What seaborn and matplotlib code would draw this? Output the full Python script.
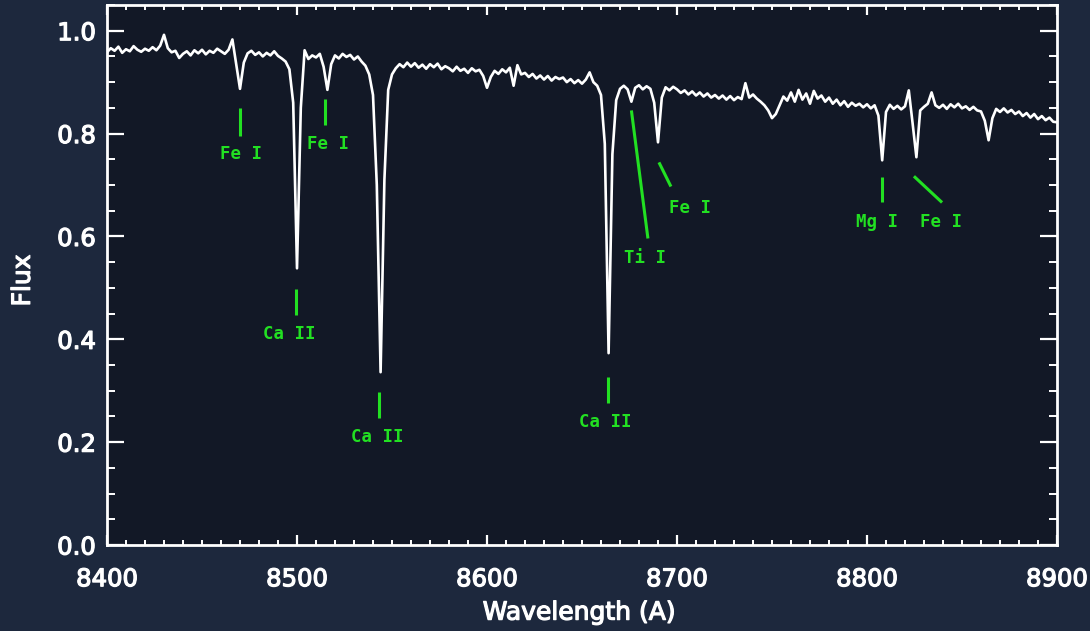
import numpy as np
import pandas as pd
import matplotlib
matplotlib.use("Agg")
import matplotlib.pyplot as plt
import matplotlib.patheffects as pe
import seaborn as sns

# ---------------- data ----------------
wave_start = 8400.0
wave_step = 2.0
flux = [
    0.958, 0.966, 0.961, 0.969, 0.957, 0.964, 0.960, 0.970, 0.963, 0.959,   # 8400
    0.965, 0.961, 0.968, 0.962, 0.971, 0.992, 0.966, 0.958, 0.961, 0.947,   # 8420
    0.955, 0.960, 0.952, 0.962, 0.956, 0.963, 0.954, 0.961, 0.957, 0.965,   # 8440
    0.960, 0.955, 0.963, 0.983, 0.935, 0.887, 0.938, 0.956, 0.961, 0.953,   # 8460
    0.958, 0.950, 0.957, 0.952, 0.960, 0.951, 0.946, 0.940, 0.925, 0.860,   # 8480
    0.538, 0.850, 0.962, 0.945, 0.952, 0.948, 0.955, 0.930, 0.885, 0.935,   # 8500
    0.952, 0.946, 0.955, 0.949, 0.953, 0.944, 0.950, 0.940, 0.932, 0.915,   # 8520
    0.875, 0.700, 0.336, 0.710, 0.885, 0.915, 0.927, 0.935, 0.929, 0.938,   # 8540
    0.930, 0.937, 0.928, 0.934, 0.926, 0.935, 0.929, 0.936, 0.925, 0.931,   # 8560
    0.927, 0.921, 0.930, 0.922, 0.926, 0.918, 0.927, 0.921, 0.924, 0.912,   # 8580
    0.889, 0.910, 0.922, 0.916, 0.925, 0.919, 0.928, 0.893, 0.933, 0.915,   # 8600
    0.918, 0.910, 0.916, 0.907, 0.913, 0.905, 0.912, 0.903, 0.910, 0.906,   # 8620
    0.909, 0.900, 0.906, 0.898, 0.904, 0.897, 0.905, 0.919, 0.900, 0.893,   # 8640
    0.875, 0.780, 0.373, 0.760, 0.865, 0.887, 0.893, 0.886, 0.862, 0.889,   # 8660
    0.894, 0.886, 0.892, 0.887, 0.860, 0.783, 0.870, 0.890, 0.884, 0.891,   # 8680
    0.886, 0.879, 0.884, 0.876, 0.882, 0.874, 0.880, 0.872, 0.878, 0.870,   # 8700
    0.875, 0.868, 0.874, 0.866, 0.873, 0.865, 0.871, 0.867, 0.898, 0.870,   # 8720
    0.876, 0.868, 0.862, 0.855, 0.845, 0.830, 0.838, 0.855, 0.872, 0.864,   # 8740
    0.880, 0.862, 0.885, 0.866, 0.878, 0.858, 0.883, 0.868, 0.874, 0.862,   # 8760
    0.870, 0.858, 0.866, 0.855, 0.863, 0.852, 0.860, 0.854, 0.858, 0.851,   # 8780
    0.857, 0.849, 0.855, 0.835, 0.748, 0.842, 0.856, 0.848, 0.854, 0.847,   # 8800
    0.853, 0.884, 0.820, 0.754, 0.845, 0.852, 0.858, 0.880, 0.855, 0.850,   # 8820
    0.856, 0.848, 0.857, 0.851, 0.858, 0.849, 0.853, 0.846, 0.852, 0.845,   # 8840
    0.843, 0.825, 0.787, 0.830, 0.848, 0.842, 0.849, 0.841, 0.846, 0.838,   # 8860
    0.843, 0.834, 0.840, 0.831, 0.838, 0.828, 0.834, 0.826, 0.831, 0.823,   # 8880
    0.822,                                                                  # 8900
]
wavelength = wave_start + wave_step * np.arange(len(flux))

# line identifications
line_names = ["Fe I", "Ca II", "Fe I", "Ca II", "Ca II", "Ti I", "Fe I", "Mg I", "Fe I"]
label_wave = [8470.5, 8496.0, 8516.5, 8542.0, 8662.0, 8683.0, 8707.0, 8805.0, 8839.0]
label_flux = [0.760, 0.410, 0.779, 0.210, 0.239, 0.559, 0.656, 0.629, 0.629]
mark_wave0 = [8470.0, 8499.3, 8514.7, 8543.0, 8663.7, 8676.0, 8690.5, 8807.7, 8824.7]
mark_flux0 = [0.849, 0.497, 0.868, 0.297, 0.326, 0.845, 0.744, 0.715, 0.717]
mark_wave1 = [8470.0, 8499.3, 8514.7, 8543.0, 8663.7, 8684.7, 8696.8, 8807.7, 8839.5]
mark_flux1 = [0.796, 0.447, 0.816, 0.247, 0.276, 0.596, 0.697, 0.666, 0.666]

x_ticks = [8400, 8500, 8600, 8700, 8800, 8900]
y_ticks = [0.0, 0.2, 0.4, 0.6, 0.8, 1.0]

# ---------------- styling ----------------
fig_bg = "#1d283d"
ax_bg = "#121826"
green = "#22e022"

sns.set_theme(style="ticks")
plt.rcParams["font.family"] = ["DejaVu Sans"]

fig = plt.figure(figsize=(10.9, 6.31), dpi=100, facecolor=fig_bg)
ax = fig.add_axes([107 / 1090, 1 - 545 / 631, 950 / 1090, 540 / 631])
ax.set_facecolor(ax_bg)

df = pd.DataFrame({"Wavelength": wavelength, "Flux": flux})
sns.lineplot(data=df, x="Wavelength", y="Flux", color="white", lw=1.9,
             ax=ax, estimator=None, sort=False)

for w0, f0, w1, f1 in zip(mark_wave0, mark_flux0, mark_wave1, mark_flux1):
    ax.plot([w0, w1], [f0, f1], color=green, lw=2.2, solid_capstyle="butt")
for name, w, f in zip(line_names, label_wave, label_flux):
    ax.text(w, f, name, color=green, fontsize=12.5, fontweight="bold",
            family=["DejaVu Sans Mono"], ha="center", va="center")

ax.set_xlim(8400, 8900)
ax.set_ylim(0.0, 1.05)
ax.set_xticks(x_ticks)
ax.set_xticklabels([str(t) for t in x_ticks])
ax.set_yticks(y_ticks)
ax.set_yticklabels([f"{t:.1f}" for t in y_ticks])
ax.set_xticks(np.arange(8400, 8901, 10), minor=True)
ax.set_yticks(np.arange(0.0, 1.051, 0.05), minor=True)

for s in ax.spines.values():
    s.set_color("white")
    s.set_linewidth(2.0)
    s.set_visible(True)

ax.tick_params(axis="x", which="major", direction="in", length=7, width=1.6,
               color="white", labelcolor="white", labelsize=17.5, pad=16,
               top=True, bottom=True)
ax.tick_params(axis="x", which="minor", direction="in", length=3.5, width=1.4,
               color="white", top=True, bottom=True)
ax.tick_params(axis="y", which="major", direction="in", length=12, width=1.6,
               color="white", labelcolor="white", labelsize=17.5, pad=8,
               left=True, right=True)
ax.tick_params(axis="y", which="minor", direction="in", length=6, width=1.4,
               color="white", left=True, right=True)

thick = [pe.withStroke(linewidth=0.9, foreground="white")]
for lab in ax.get_xticklabels() + ax.get_yticklabels():
    lab.set_path_effects(thick)

ax.set_xlabel("Wavelength (A)", color="white", fontsize=18,
              path_effects=thick)
ax.set_ylabel("Flux", color="white", fontsize=18, path_effects=thick)
ax.xaxis.set_label_coords(0.497, -0.103)
ax.yaxis.set_label_coords(-0.076, 0.49)

fig.savefig("out.png", dpi=100, facecolor=fig_bg)
